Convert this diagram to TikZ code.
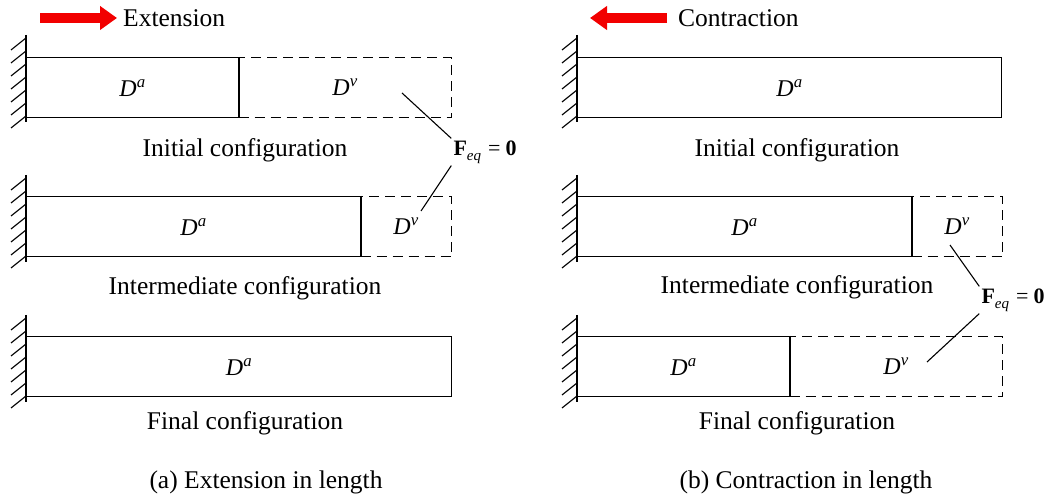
\documentclass[tikz,border=0pt]{standalone}
\usepackage{fontspec}
\setmainfont{Liberation Serif}
\usetikzlibrary{arrows.meta}
\definecolor{pushred}{HTML}{F20000}
\newcommand{\feqtext}{\textbf{F}\raisebox{-5pt}{\fontsize{15}{18}\selectfont\itshape eq}\hspace{7pt}=\hspace{5pt}\textbf{0}}

\begin{document}
\begin{tikzpicture}[x=1pt,y=-1pt,
  bar/.style={draw=black,line width=1.2pt,anchor=north west,minimum height=60pt,inner sep=0pt,font=\fontsize{24}{28}\selectfont\itshape},
  ghost/.style={bar,dash pattern=on 10pt off 6pt},
  caption/.style={font=\fontsize{25.5}{30}\selectfont,inner sep=0pt},
  feq/.style={font=\fontsize{22}{26}\selectfont,inner sep=2pt},
  lead/.style={line width=1.1pt},
  push/.style={draw=pushred,line width=10pt,-{Triangle[length=17pt,width=23pt]}},
  wall/.style={line width=1.5pt},
  hatch/.style={line width=1.1pt}
]
\useasboundingbox (0,0) rectangle (1053,502);

% fixed walls
\foreach \wx/\wy in {26/35,26/175,26/315,577/35,577/175,577/315}{
  \draw[wall] (\wx,\wy) -- (\wx,\wy+87);
  \foreach \k in {0,...,6} \draw[hatch] (\wx,\wy+3+\k*13) -- ++(-15,12);
}

% (a) extension
\coordinate (extTail) at (40,18);
\coordinate (extTip) at (117,18);
\draw[push] (extTail) -- (extTip);
\node[caption,anchor=west] (extlabel) at (123,18) {Extension};

\node[bar,minimum width=212pt] (ea1) at (26,57) {D\textsuperscript{a}};
\node[ghost,minimum width=213pt] (ev1) at (238,57) {D\textsuperscript{v}};
\draw[line width=1.2pt] (ea1.north east) -- (ea1.south east);
\node[caption] (ecap1) at (245,150) {Initial configuration};

\node[bar,minimum width=334pt] (ea2) at (26,196) {D\textsuperscript{a}};
\node[ghost,minimum width=91pt] (ev2) at (360,196) {D\textsuperscript{v}};
\draw[line width=1.2pt] (ea2.north east) -- (ea2.south east);
\node[caption] (ecap2) at (245,288) {Intermediate configuration};

\node[bar,minimum width=425pt] (ea3) at (26,336) {D\textsuperscript{a}};
\node[caption] (ecap3) at (245,423) {Final configuration};

\node[feq] (feqL) at (485,152) {\feqtext};
\coordinate (evp1) at (402,93);
\coordinate (evp2) at (421,211);
\draw[lead] (evp1) -- (feqL.north west);
\draw[lead] (feqL.south west) -- (evp2);

\node[caption] (capa) at (266,482) {(a) Extension in length};

% (b) contraction
\coordinate (conTail) at (667,18);
\coordinate (conTip) at (590,18);
\draw[push] (conTail) -- (conTip);
\node[caption,anchor=west] (conlabel) at (678,18) {Contraction};

\node[bar,minimum width=424pt] (ca1) at (577,57) {D\textsuperscript{a}};
\node[caption] (ccap1) at (797,150) {Initial configuration};

\node[bar,minimum width=334pt] (ca2) at (577,196) {D\textsuperscript{a}};
\node[ghost,minimum width=91pt] (cv2) at (911,196) {D\textsuperscript{v}};
\draw[line width=1.2pt] (ca2.north east) -- (ca2.south east);
\node[caption] (ccap2) at (797,287) {Intermediate configuration};

\node[bar,minimum width=212pt] (ca3) at (577,336) {D\textsuperscript{a}};
\node[ghost,minimum width=213pt] (cv3) at (789,336) {D\textsuperscript{v}};
\draw[line width=1.2pt] (ca3.north east) -- (ca3.south east);
\node[caption] (ccap3) at (797,423) {Final configuration};

\node[feq] (feqR) at (1013,300) {\feqtext};
\coordinate (cvp1) at (950,245);
\coordinate (cvp2) at (927,362);
\draw[lead] (cvp1) -- (feqR.north west);
\draw[lead] (feqR.south west) -- (cvp2);

\node[caption] (capb) at (806,482) {(b) Contraction in length};
\end{tikzpicture}
\end{document}
